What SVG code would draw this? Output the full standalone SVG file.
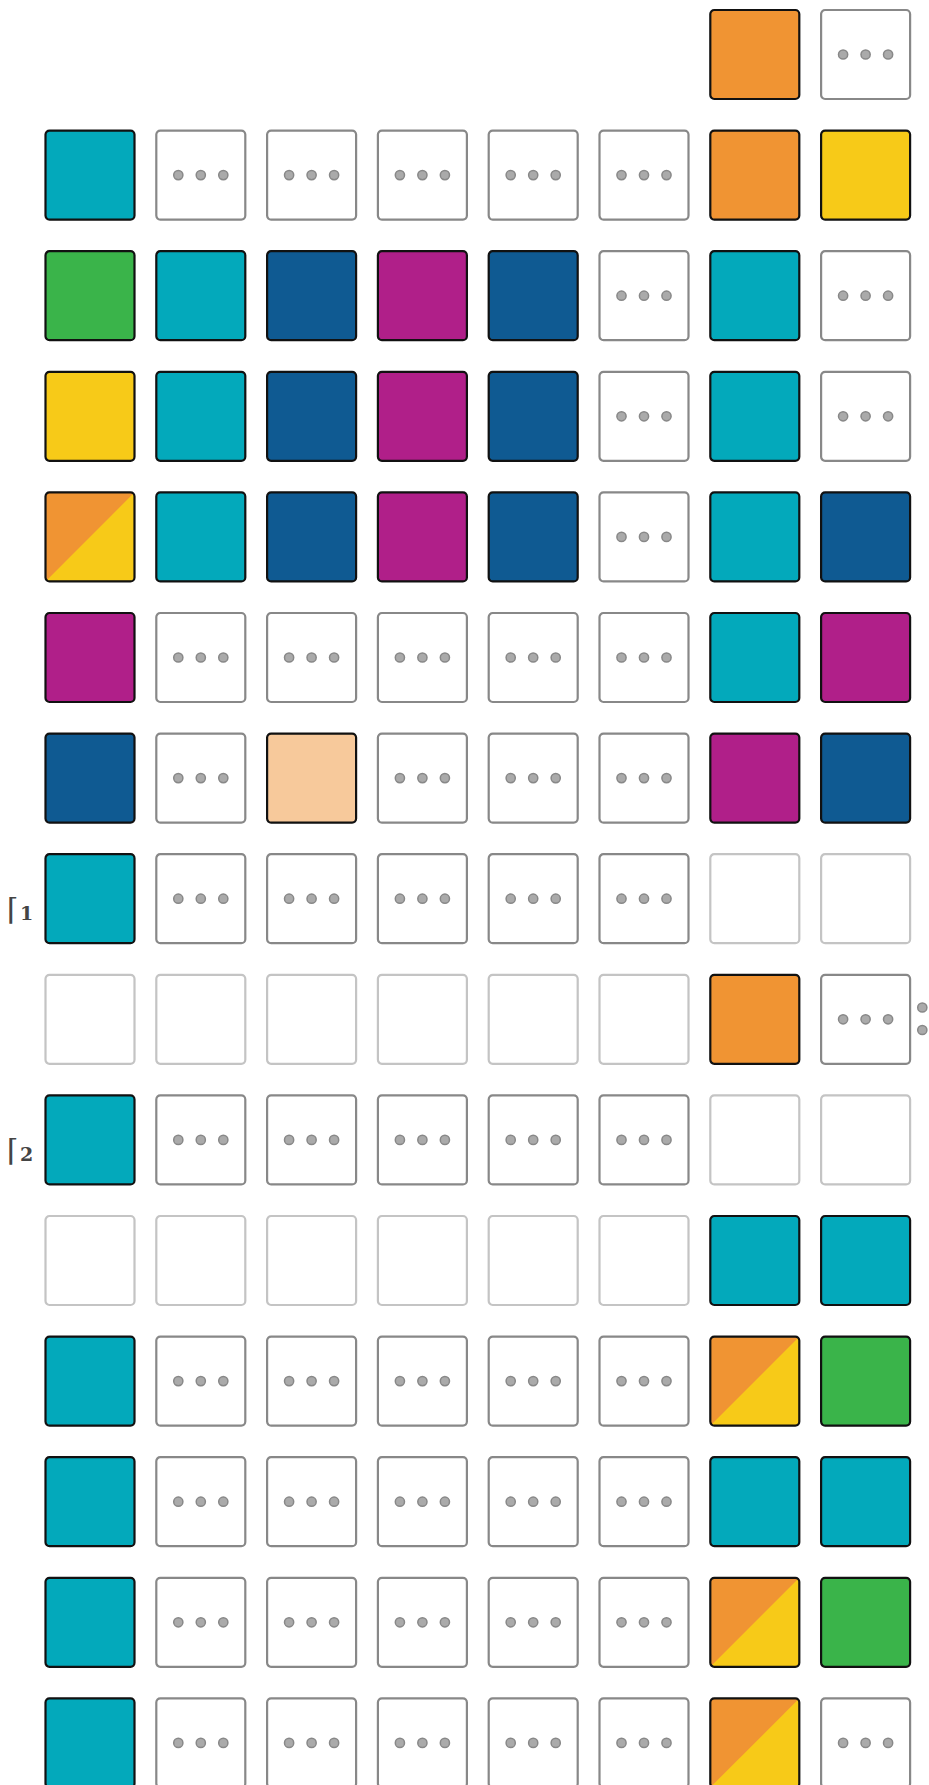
<svg xmlns="http://www.w3.org/2000/svg" xmlns:xlink="http://www.w3.org/1999/xlink" width="929" height="1785" viewBox="0 0 929 1785">
<style>
.b{stroke:#111;stroke-width:2.2}
.d{fill:#fff;stroke:#888;stroke-width:2.2}
.e{fill:#fff;stroke:#c4c4c4;stroke-width:2.2}
.teal{fill:#03A9BB}
.org{fill:#F09433}
.yel{fill:#F7CA18}
.grn{fill:#3AB44A}
.blu{fill:#0F5A92}
.mag{fill:#B01F89}
.pch{fill:#F7C99B}
.dot{fill:#aaa;stroke:#888;stroke-width:1.5}
.lbl{font-family:"DejaVu Serif","Liberation Serif",serif;font-size:19px;font-weight:bold;fill:#444}
.brk{font-weight:normal;font-size:30px}
</style>
<defs>
<clipPath id="cb"><rect x="1" y="1" width="89" height="89" rx="4"/></clipPath>
<g id="dots"><circle class="dot" cx="23" cy="45.5" r="4.6"/><circle class="dot" cx="45.5" cy="45.5" r="4.6"/><circle class="dot" cx="68" cy="45.5" r="4.6"/></g>
<g id="D"><rect class="d" x="1" y="1" width="89" height="89" rx="4"/><use xlink:href="#dots"/></g>
<rect id="E" class="e" x="1" y="1" width="89" height="89" rx="4"/>
<rect id="T" class="b teal" x="1" y="1" width="89" height="89" rx="4"/>
<rect id="O" class="b org" x="1" y="1" width="89" height="89" rx="4"/>
<rect id="Y" class="b yel" x="1" y="1" width="89" height="89" rx="4"/>
<rect id="G" class="b grn" x="1" y="1" width="89" height="89" rx="4"/>
<rect id="B" class="b blu" x="1" y="1" width="89" height="89" rx="4"/>
<rect id="M" class="b mag" x="1" y="1" width="89" height="89" rx="4"/>
<rect id="P" class="b pch" x="1" y="1" width="89" height="89" rx="4"/>
<g id="S"><g clip-path="url(#cb)"><rect class="yel" x="0" y="0" width="91" height="91"/><polygon class="org" points="0,0 91,0 0,91"/></g><rect x="1" y="1" width="89" height="89" rx="4" fill="none" class="b"/></g>
</defs>
<g id="connectors"/>
<g id="labels">
<text class="lbl" y="920"><tspan class="brk" x="7">⌈</tspan><tspan x="20">1</tspan></text>
<text class="lbl" y="1161"><tspan class="brk" x="7">⌈</tspan><tspan x="20">2</tspan></text>
</g>
<g id="row0">
<g id="r0c6" transform="translate(709.3,9)"><use xlink:href="#O"/></g>
<g id="r0c7" transform="translate(820.1,9)"><use xlink:href="#D"/></g>
</g>
<g id="row1">
<g id="r1c0" transform="translate(44.5,129.6)"><use xlink:href="#T"/></g>
<g id="r1c1" transform="translate(155.3,129.6)"><use xlink:href="#D"/></g>
<g id="r1c2" transform="translate(266.1,129.6)"><use xlink:href="#D"/></g>
<g id="r1c3" transform="translate(376.9,129.6)"><use xlink:href="#D"/></g>
<g id="r1c4" transform="translate(487.7,129.6)"><use xlink:href="#D"/></g>
<g id="r1c5" transform="translate(598.5,129.6)"><use xlink:href="#D"/></g>
<g id="r1c6" transform="translate(709.3,129.6)"><use xlink:href="#O"/></g>
<g id="r1c7" transform="translate(820.1,129.6)"><use xlink:href="#Y"/></g>
</g>
<g id="row2">
<g id="r2c0" transform="translate(44.5,250.2)"><use xlink:href="#G"/></g>
<g id="r2c1" transform="translate(155.3,250.2)"><use xlink:href="#T"/></g>
<g id="r2c2" transform="translate(266.1,250.2)"><use xlink:href="#B"/></g>
<g id="r2c3" transform="translate(376.9,250.2)"><use xlink:href="#M"/></g>
<g id="r2c4" transform="translate(487.7,250.2)"><use xlink:href="#B"/></g>
<g id="r2c5" transform="translate(598.5,250.2)"><use xlink:href="#D"/></g>
<g id="r2c6" transform="translate(709.3,250.2)"><use xlink:href="#T"/></g>
<g id="r2c7" transform="translate(820.1,250.2)"><use xlink:href="#D"/></g>
</g>
<g id="row3">
<g id="r3c0" transform="translate(44.5,370.8)"><use xlink:href="#Y"/></g>
<g id="r3c1" transform="translate(155.3,370.8)"><use xlink:href="#T"/></g>
<g id="r3c2" transform="translate(266.1,370.8)"><use xlink:href="#B"/></g>
<g id="r3c3" transform="translate(376.9,370.8)"><use xlink:href="#M"/></g>
<g id="r3c4" transform="translate(487.7,370.8)"><use xlink:href="#B"/></g>
<g id="r3c5" transform="translate(598.5,370.8)"><use xlink:href="#D"/></g>
<g id="r3c6" transform="translate(709.3,370.8)"><use xlink:href="#T"/></g>
<g id="r3c7" transform="translate(820.1,370.8)"><use xlink:href="#D"/></g>
</g>
<g id="row4">
<g id="r4c0" transform="translate(44.5,491.4)"><use xlink:href="#S"/></g>
<g id="r4c1" transform="translate(155.3,491.4)"><use xlink:href="#T"/></g>
<g id="r4c2" transform="translate(266.1,491.4)"><use xlink:href="#B"/></g>
<g id="r4c3" transform="translate(376.9,491.4)"><use xlink:href="#M"/></g>
<g id="r4c4" transform="translate(487.7,491.4)"><use xlink:href="#B"/></g>
<g id="r4c5" transform="translate(598.5,491.4)"><use xlink:href="#D"/></g>
<g id="r4c6" transform="translate(709.3,491.4)"><use xlink:href="#T"/></g>
<g id="r4c7" transform="translate(820.1,491.4)"><use xlink:href="#B"/></g>
</g>
<g id="row5">
<g id="r5c0" transform="translate(44.5,612)"><use xlink:href="#M"/></g>
<g id="r5c1" transform="translate(155.3,612)"><use xlink:href="#D"/></g>
<g id="r5c2" transform="translate(266.1,612)"><use xlink:href="#D"/></g>
<g id="r5c3" transform="translate(376.9,612)"><use xlink:href="#D"/></g>
<g id="r5c4" transform="translate(487.7,612)"><use xlink:href="#D"/></g>
<g id="r5c5" transform="translate(598.5,612)"><use xlink:href="#D"/></g>
<g id="r5c6" transform="translate(709.3,612)"><use xlink:href="#T"/></g>
<g id="r5c7" transform="translate(820.1,612)"><use xlink:href="#M"/></g>
</g>
<g id="row6">
<g id="r6c0" transform="translate(44.5,732.6)"><use xlink:href="#B"/></g>
<g id="r6c1" transform="translate(155.3,732.6)"><use xlink:href="#D"/></g>
<g id="r6c2" transform="translate(266.1,732.6)"><use xlink:href="#P"/></g>
<g id="r6c3" transform="translate(376.9,732.6)"><use xlink:href="#D"/></g>
<g id="r6c4" transform="translate(487.7,732.6)"><use xlink:href="#D"/></g>
<g id="r6c5" transform="translate(598.5,732.6)"><use xlink:href="#D"/></g>
<g id="r6c6" transform="translate(709.3,732.6)"><use xlink:href="#M"/></g>
<g id="r6c7" transform="translate(820.1,732.6)"><use xlink:href="#B"/></g>
</g>
<g id="row7">
<g id="r7c0" transform="translate(44.5,853.2)"><use xlink:href="#T"/></g>
<g id="r7c1" transform="translate(155.3,853.2)"><use xlink:href="#D"/></g>
<g id="r7c2" transform="translate(266.1,853.2)"><use xlink:href="#D"/></g>
<g id="r7c3" transform="translate(376.9,853.2)"><use xlink:href="#D"/></g>
<g id="r7c4" transform="translate(487.7,853.2)"><use xlink:href="#D"/></g>
<g id="r7c5" transform="translate(598.5,853.2)"><use xlink:href="#D"/></g>
<g id="r7c6" transform="translate(709.3,853.2)"><use xlink:href="#E"/></g>
<g id="r7c7" transform="translate(820.1,853.2)"><use xlink:href="#E"/></g>
</g>
<g id="row8">
<g id="r8c0" transform="translate(44.5,973.8)"><use xlink:href="#E"/></g>
<g id="r8c1" transform="translate(155.3,973.8)"><use xlink:href="#E"/></g>
<g id="r8c2" transform="translate(266.1,973.8)"><use xlink:href="#E"/></g>
<g id="r8c3" transform="translate(376.9,973.8)"><use xlink:href="#E"/></g>
<g id="r8c4" transform="translate(487.7,973.8)"><use xlink:href="#E"/></g>
<g id="r8c5" transform="translate(598.5,973.8)"><use xlink:href="#E"/></g>
<g id="r8c6" transform="translate(709.3,973.8)"><use xlink:href="#O"/></g>
<g id="r8c7" transform="translate(820.1,973.8)"><use xlink:href="#D"/></g>
<g id="r8more"><circle class="dot" cx="922.3" cy="1007.5" r="4.6"/><circle class="dot" cx="922.3" cy="1030" r="4.6"/></g>
</g>
<g id="row9">
<g id="r9c0" transform="translate(44.5,1094.4)"><use xlink:href="#T"/></g>
<g id="r9c1" transform="translate(155.3,1094.4)"><use xlink:href="#D"/></g>
<g id="r9c2" transform="translate(266.1,1094.4)"><use xlink:href="#D"/></g>
<g id="r9c3" transform="translate(376.9,1094.4)"><use xlink:href="#D"/></g>
<g id="r9c4" transform="translate(487.7,1094.4)"><use xlink:href="#D"/></g>
<g id="r9c5" transform="translate(598.5,1094.4)"><use xlink:href="#D"/></g>
<g id="r9c6" transform="translate(709.3,1094.4)"><use xlink:href="#E"/></g>
<g id="r9c7" transform="translate(820.1,1094.4)"><use xlink:href="#E"/></g>
</g>
<g id="row10">
<g id="r10c0" transform="translate(44.5,1215)"><use xlink:href="#E"/></g>
<g id="r10c1" transform="translate(155.3,1215)"><use xlink:href="#E"/></g>
<g id="r10c2" transform="translate(266.1,1215)"><use xlink:href="#E"/></g>
<g id="r10c3" transform="translate(376.9,1215)"><use xlink:href="#E"/></g>
<g id="r10c4" transform="translate(487.7,1215)"><use xlink:href="#E"/></g>
<g id="r10c5" transform="translate(598.5,1215)"><use xlink:href="#E"/></g>
<g id="r10c6" transform="translate(709.3,1215)"><use xlink:href="#T"/></g>
<g id="r10c7" transform="translate(820.1,1215)"><use xlink:href="#T"/></g>
</g>
<g id="row11">
<g id="r11c0" transform="translate(44.5,1335.6)"><use xlink:href="#T"/></g>
<g id="r11c1" transform="translate(155.3,1335.6)"><use xlink:href="#D"/></g>
<g id="r11c2" transform="translate(266.1,1335.6)"><use xlink:href="#D"/></g>
<g id="r11c3" transform="translate(376.9,1335.6)"><use xlink:href="#D"/></g>
<g id="r11c4" transform="translate(487.7,1335.6)"><use xlink:href="#D"/></g>
<g id="r11c5" transform="translate(598.5,1335.6)"><use xlink:href="#D"/></g>
<g id="r11c6" transform="translate(709.3,1335.6)"><use xlink:href="#S"/></g>
<g id="r11c7" transform="translate(820.1,1335.6)"><use xlink:href="#G"/></g>
</g>
<g id="row12">
<g id="r12c0" transform="translate(44.5,1456.2)"><use xlink:href="#T"/></g>
<g id="r12c1" transform="translate(155.3,1456.2)"><use xlink:href="#D"/></g>
<g id="r12c2" transform="translate(266.1,1456.2)"><use xlink:href="#D"/></g>
<g id="r12c3" transform="translate(376.9,1456.2)"><use xlink:href="#D"/></g>
<g id="r12c4" transform="translate(487.7,1456.2)"><use xlink:href="#D"/></g>
<g id="r12c5" transform="translate(598.5,1456.2)"><use xlink:href="#D"/></g>
<g id="r12c6" transform="translate(709.3,1456.2)"><use xlink:href="#T"/></g>
<g id="r12c7" transform="translate(820.1,1456.2)"><use xlink:href="#T"/></g>
</g>
<g id="row13">
<g id="r13c0" transform="translate(44.5,1576.8)"><use xlink:href="#T"/></g>
<g id="r13c1" transform="translate(155.3,1576.8)"><use xlink:href="#D"/></g>
<g id="r13c2" transform="translate(266.1,1576.8)"><use xlink:href="#D"/></g>
<g id="r13c3" transform="translate(376.9,1576.8)"><use xlink:href="#D"/></g>
<g id="r13c4" transform="translate(487.7,1576.8)"><use xlink:href="#D"/></g>
<g id="r13c5" transform="translate(598.5,1576.8)"><use xlink:href="#D"/></g>
<g id="r13c6" transform="translate(709.3,1576.8)"><use xlink:href="#S"/></g>
<g id="r13c7" transform="translate(820.1,1576.8)"><use xlink:href="#G"/></g>
</g>
<g id="row14">
<g id="r14c0" transform="translate(44.5,1697.4)"><use xlink:href="#T"/></g>
<g id="r14c1" transform="translate(155.3,1697.4)"><use xlink:href="#D"/></g>
<g id="r14c2" transform="translate(266.1,1697.4)"><use xlink:href="#D"/></g>
<g id="r14c3" transform="translate(376.9,1697.4)"><use xlink:href="#D"/></g>
<g id="r14c4" transform="translate(487.7,1697.4)"><use xlink:href="#D"/></g>
<g id="r14c5" transform="translate(598.5,1697.4)"><use xlink:href="#D"/></g>
<g id="r14c6" transform="translate(709.3,1697.4)"><use xlink:href="#S"/></g>
<g id="r14c7" transform="translate(820.1,1697.4)"><use xlink:href="#D"/></g>
</g>
</svg>
